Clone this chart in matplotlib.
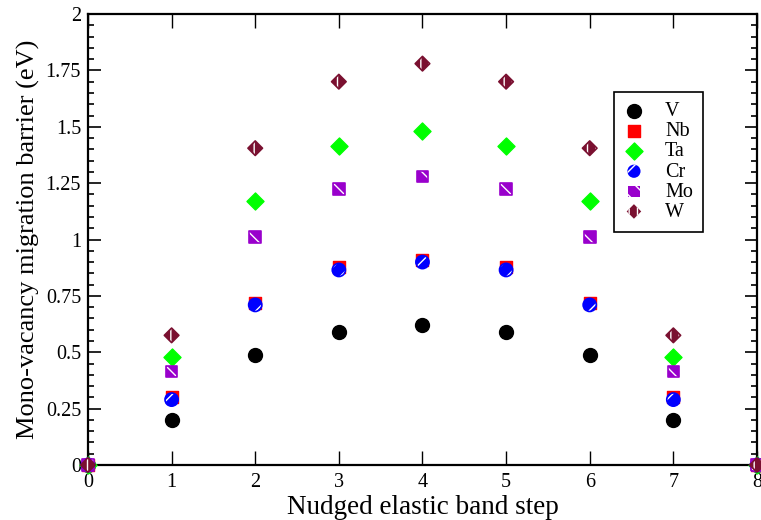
import matplotlib.pyplot as plt
from matplotlib.ticker import MultipleLocator, FormatStrFormatter

plt.rcParams['font.family'] = ['Liberation Serif', 'DejaVu Serif']

steps = [0, 1, 2, 3, 4, 5, 6, 7, 8]
V = [0, 0.20, 0.49, 0.59, 0.62, 0.59, 0.49, 0.20, 0]
Nb = [0, 0.30, 0.72, 0.88, 0.91, 0.88, 0.72, 0.30, 0]
Ta = [0, 0.48, 1.17, 1.415, 1.48, 1.415, 1.17, 0.48, 0]
Cr = [0, 0.29, 0.71, 0.865, 0.90, 0.865, 0.71, 0.29, 0]
Mo = [0, 0.415, 1.01, 1.225, 1.28, 1.225, 1.01, 0.415, 0]
W = [0, 0.575, 1.405, 1.70, 1.78, 1.70, 1.405, 0.575, 0]

fig = plt.figure(figsize=(7.61, 5.2), dpi=100)
ax = fig.add_axes([0.1156, 0.1058, 0.8791, 0.8672])

# plain markers
ax.scatter(steps, V, s=100, marker='o', color='black', label='V', clip_on=False, zorder=3)
ax.scatter(steps, Nb, s=70, marker='s', color='red', label='Nb', clip_on=False, zorder=3)
ax.scatter(steps, Ta, s=75, marker='D', color='#00ff00', label='Ta', clip_on=False, zorder=3)

# hatched markers: coloured face with white hatch, outline on top
hatched = [(Cr, 'o', 90, 'blue', '//', 'Cr'),
           (Mo, 's', 70, '#9900cc', '\\\\', 'Mo'),
           (W, 'D', 55, '#7a1030', '||', 'W')]
for vals, m, s, c, h, name in hatched:
    ax.scatter(steps, vals, s=s, marker=m, facecolor=c, edgecolor='white',
               hatch=h, linewidth=0, clip_on=False, zorder=3)
    ax.scatter(steps, vals, s=s, marker=m, facecolor='none', edgecolor=c,
               linewidth=1.2, clip_on=False, zorder=3)
    ax.scatter([], [], s=s, marker=m, facecolor=c, edgecolor='white',
               hatch=h, linewidth=0, label=name)

ax.set_xlim(0, 8)
ax.set_ylim(0, 2)
ax.xaxis.set_major_locator(MultipleLocator(1))
ax.yaxis.set_major_locator(MultipleLocator(0.25))
ax.yaxis.set_minor_locator(MultipleLocator(0.05))
ax.yaxis.set_major_formatter(FormatStrFormatter('%g'))
ax.tick_params(which='both', direction='in', top=True, right=True, labelsize=14.5)
ax.tick_params(axis='x', which='major', length=10, width=1, pad=6)
ax.tick_params(axis='y', which='major', length=9, width=1.2, pad=5)
ax.tick_params(axis='y', which='minor', length=4.5, width=1.2)
for sp in ax.spines.values():
    sp.set_linewidth(1.6)

ax.set_xlabel('Nudged elastic band step', fontsize=19.5, labelpad=2)
ax.set_ylabel('Mono-vacancy migration barrier (eV)', fontsize=19, labelpad=4)

leg = ax.legend(loc='upper left', bbox_to_anchor=(0.786, 0.827), fontsize=14.5,
                frameon=True, fancybox=False, edgecolor='black', framealpha=1,
                handlelength=1.0, handletextpad=1.05, borderpad=0.5,
                labelspacing=0.05, borderaxespad=0, scatterpoints=1)
leg.get_frame().set_linewidth(1.2)

fig.savefig('out.png', dpi=100)
